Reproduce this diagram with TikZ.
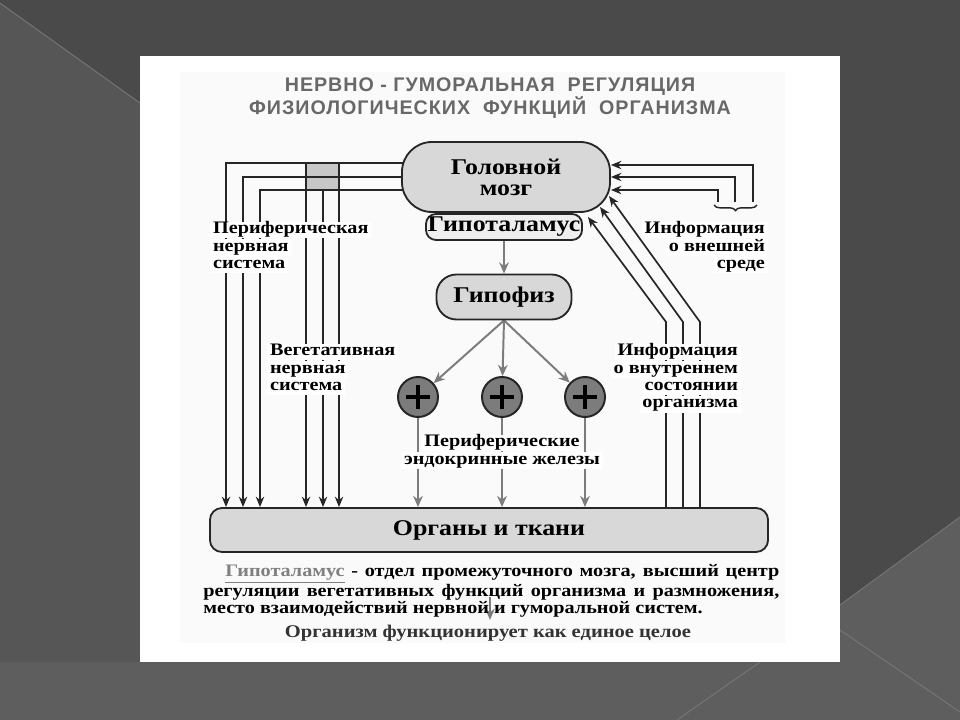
\documentclass[tikz,border=0pt]{standalone}
\usepackage{fontspec}
\setmainfont{Liberation Serif}
\newfontfamily\scanfont[FakeStretch=1.15]{Liberation Serif}
\newfontfamily\headfont[LetterSpace=5]{Liberation Sans}
\usetikzlibrary{arrows.meta,positioning,decorations.pathreplacing}

\definecolor{slidedark}{HTML}{4A4A4A}
\definecolor{slideleft}{HTML}{565656}
\definecolor{slidelow}{HTML}{5E5E5E}
\definecolor{slideline}{HTML}{787878}
\definecolor{paper}{HTML}{FAFAFA}
\definecolor{boxgray}{HTML}{D8D8D8}
\definecolor{palegray}{HTML}{EEEEEE}
\definecolor{humorgray}{HTML}{7C7C7C}
\definecolor{titlegray}{HTML}{686868}
\definecolor{linkgray}{HTML}{808080}

\pgfdeclarelayer{slide}
\pgfdeclarelayer{wires}
\pgfsetlayers{slide,wires,main}

\tikzset{
  nerve/.style={draw=black!85, line width=1.2pt},
  nervearrow/.style={nerve, -{Stealth[length=2.6mm,width=2.1mm]}},
  humor/.style={draw=humorgray, line width=1.4pt},
  humorarrow/.style={humor, -{Stealth[length=2.8mm,width=2.4mm]}},
  organbox/.style={draw=black!85, line width=1.3pt, fill=boxgray, align=center,
    font=\scanfont\bfseries\fontsize{16}{15}\selectfont},
  gland/.style={circle, draw=black!85, line width=1.4pt, fill=humorgray, minimum size=1cm,
    path picture={\draw[line width=2.4pt, black]
      ([xshift=-3mm]path picture bounding box.center) -- ([xshift=3mm]path picture bounding box.center)
      ([yshift=-3mm]path picture bounding box.center) -- ([yshift=3mm]path picture bounding box.center);}},
  sidetext/.style={fill=white, inner xsep=2pt, inner ysep=1pt, text height=7.6pt, text depth=2.4pt,
    font=\scanfont\bfseries\fontsize{12.5}{13}\selectfont},
}

\begin{document}
\begin{tikzpicture}[x=0.025cm, y=-0.025cm]
\useasboundingbox (0,0) rectangle (960,720);

% slide background
\begin{pgfonlayer}{slide}
\fill[slidelow] (0,0) rectangle (960,720);
\fill[slideleft] (0,0) rectangle (840,662);
\fill[slidedark] (0,0) -- (960,0) -- (960,517) -- (840,605) -- (140,103) -- (0,3) -- cycle;
\draw[slideline, line width=0.6pt] (0,3) -- (140,103)
  (840,605) -- (960,517) (840,630) -- (960,712) (677,720) -- (760,662);
\fill[white] (140,56) rectangle (840,662);
\fill[paper] (180,72) rectangle (785,643);
\end{pgfonlayer}

\node[font=\headfont\bfseries\fontsize{14}{14}\selectfont, text=titlegray, align=center] (title) at (490,98)
  {НЕРВНО - ГУМОРАЛЬНАЯ\ \ РЕГУЛЯЦИЯ\\ФИЗИОЛОГИЧЕСКИХ\ \ ФУНКЦИЙ\ \ ОРГАНИЗМА};

% main blocks
\node[organbox, minimum width=5.2cm, minimum height=1.75cm, rounded corners=0.75cm] (brain) at (506,177) {Головной\\мозг};
\node[organbox, fill=palegray, minimum width=3.9cm, minimum height=0.65cm, rounded corners=0.25cm, inner sep=0pt] (hypothal) at (504,227) {Гипоталамус};
\node[organbox, minimum width=3.375cm, minimum height=1.125cm, rounded corners=0.5cm] (hypophysis) at (504,297) {Гипофиз};
\node[organbox, minimum width=13.95cm, minimum height=1.1cm, rounded corners=0.3cm] (organs) at (489,530) {Органы и ткани};

\node[gland] (gland1) at (418,397) {};
\node[gland] (gland2) at (502,397) {};
\node[gland] (gland3) at (585,397) {};

% connectors
\begin{pgfonlayer}{wires}
\fill[boxgray!92!black] (306,163) rectangle (339,190);
\foreach \x/\y in {226/163, 243/177, 260/190}
  \draw[nervearrow] (brain.center |- 0,\y) -| (\x,0 |- organs.north);
\foreach \x/\y in {306/163, 323/190, 339/163}
  \draw[nervearrow] (\x,\y) -- (\x,0 |- organs.north);
\foreach \x/\y in {753/165, 735/177, 718/190}
  \draw[nervearrow] (\x,202) |- (brain.east |- 0,\y);
\foreach \x/\tx/\ty in {666/588/217, 683/600/207, 700/609/196}
  \draw[nervearrow] (\x,0 |- organs.north) -- (\x,322) -- (\tx,\ty);
\draw[nerve, line width=1pt, decorate, decoration={brace, amplitude=4pt}] (757,205) -- (714,205);

\draw[humorarrow] (hypothal.south) -- (hypothal.south |- hypophysis.north);
\foreach \g in {gland1, gland2, gland3} {
  \draw[humorarrow] (hypophysis.south) -- (\g);
  \draw[humorarrow] (\g.south) -- (\g.south |- organs.north);
}
\end{pgfonlayer}

% side labels
\node[sidetext, anchor=west] (pns1) at (210,230) {Периферическая};
\node[sidetext, below right=0pt of pns1.south west] (pns2) {нервная};
\node[sidetext, below right=0pt of pns2.south west] (pns3) {система};

\node[sidetext, anchor=west] (ans1) at (267,352) {Вегетативная};
\node[sidetext, below right=0pt of ans1.south west] (ans2) {нервная};
\node[sidetext, below right=0pt of ans2.south west] (ans3) {система};

\node[sidetext, anchor=east] (ext1) at (768,230) {Информация};
\node[sidetext, below left=0pt of ext1.south east] (ext2) {о внешней};
\node[sidetext, below left=0pt of ext2.south east] (ext3) {среде};

\node[sidetext, anchor=east] (int1) at (741,352) {Информация};
\node[sidetext, below left=0pt of int1.south east] (int2) {о внутреннем};
\node[sidetext, below left=0pt of int2.south east] (int3) {состоянии};
\node[sidetext, below left=0pt of int3.south east] (int4) {организма};

\node[sidetext] (endo1) at (502,443) {Периферические};
\node[sidetext, below=0pt of endo1] (endo2) {эндокринные железы};

% note under the scheme
\node[font=\scanfont\bfseries\fontsize{12.5}{11}\selectfont, text width=14.4cm, align=justify,
  anchor=north west, inner sep=0pt] (note) at (203,564)
  {\hspace*{0.55cm}\textcolor{linkgray}{\underline{Гипоталамус}} - отдел промежуточного мозга, высший центр\linebreak
   регуляции вегетативных функций организма и размножения,\linebreak
   место взаимодействий нервной и гуморальной систем.};
\node[font=\scanfont\bfseries\fontsize{12.7}{13}\selectfont, text=black!80] (final) at (488,633)
  {Организм функционирует как единое целое};
\coordinate (notearrow) at (490,597);
\begin{pgfonlayer}{wires}
\draw[humorarrow] (notearrow) -- (notearrow |- final.north);
\end{pgfonlayer}
\end{tikzpicture}
\end{document}
